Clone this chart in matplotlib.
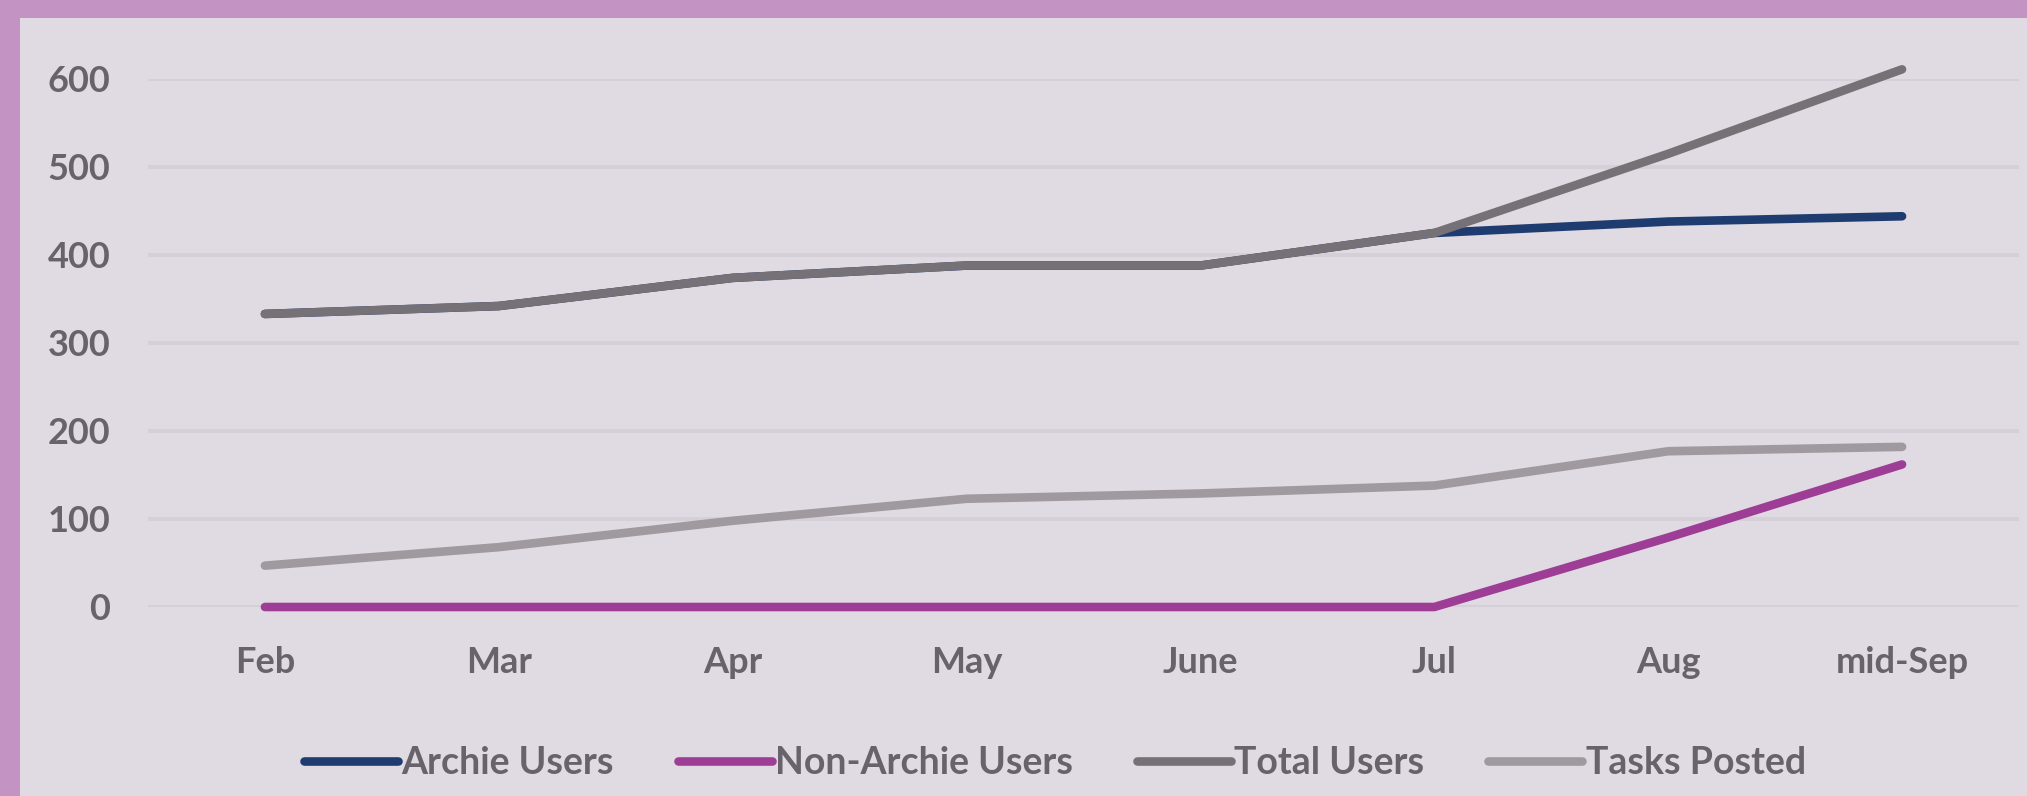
import matplotlib
matplotlib.use("Agg")
import matplotlib.pyplot as plt
from matplotlib.patches import Rectangle

categories = ["Feb", "Mar", "Apr", "May", "June", "Jul", "Aug", "mid-Sep"]
archie_users = [333, 342, 374, 388, 388, 425, 438, 444]
non_archie_users = [0, 0, 0, 0, 0, 0, 79, 162]
total_users = [333, 342, 374, 388, 388, 425, 515, 611]
tasks_posted = [47, 68, 98, 123, 129, 138, 177, 182]
y_ticks = [0, 100, 200, 300, 400, 500, 600]

W, H = 2027, 796
fig = plt.figure(figsize=(W / 100, H / 100), dpi=100)
fig.patch.set_facecolor("#C393C3")
fig.add_artist(Rectangle((20 / W, 0), 1 - 20 / W, 1 - 18 / H, transform=fig.transFigure,
                         facecolor="#E0DBE2", edgecolor="none", zorder=0))

ax = fig.add_axes([148 / W, 1 - 607 / H, (2019 - 148) / W, (607 - 79) / H])
ax.set_facecolor("none")
x = list(range(len(categories)))

series = [
    ("Archie Users", archie_users, "#1F3C70"),
    ("Non-Archie Users", non_archie_users, "#9E3D96"),
    ("Total Users", total_users, "#767077"),
    ("Tasks Posted", tasks_posted, "#A09AA0"),
]
for label, vals, col in series:
    ax.plot(x, vals, color=col, lw=6.2, solid_capstyle="round", solid_joinstyle="round",
            label=label, clip_on=False, zorder=3)

ax.set_xlim(-0.5, len(categories) - 0.5)
ax.set_ylim(0, 600)
ax.set_yticks(y_ticks)
ax.set_xticks(x)
ax.set_xticklabels(categories)
ax.grid(axis="y", color="#D5CFD7", lw=2.9, zorder=1)
ax.set_axisbelow(True)
for s in ax.spines.values():
    s.set_visible(False)

tick_color = "#68636B"
ax.tick_params(axis="both", length=0, labelsize=26, labelcolor=tick_color)
ax.tick_params(axis="y", pad=27)
ax.tick_params(axis="x", pad=28)
for t in ax.get_xticklabels() + ax.get_yticklabels():
    t.set_fontfamily("Lato")
    t.set_fontweight("bold")

leg = fig.legend(loc="center", bbox_to_anchor=(1055 / W, 1 - 763 / H), ncol=4, frameon=False,
                 prop={"family": "Lato", "size": 27, "weight": "bold"}, handlelength=2.5,
                 handletextpad=0.1, columnspacing=1.7)
for t in leg.get_texts():
    t.set_color(tick_color)
for h in leg.get_lines():
    h.set_linewidth(6.2)
    h.set_solid_capstyle("round")

fig.savefig("out.png", dpi=100, facecolor=fig.get_facecolor())
